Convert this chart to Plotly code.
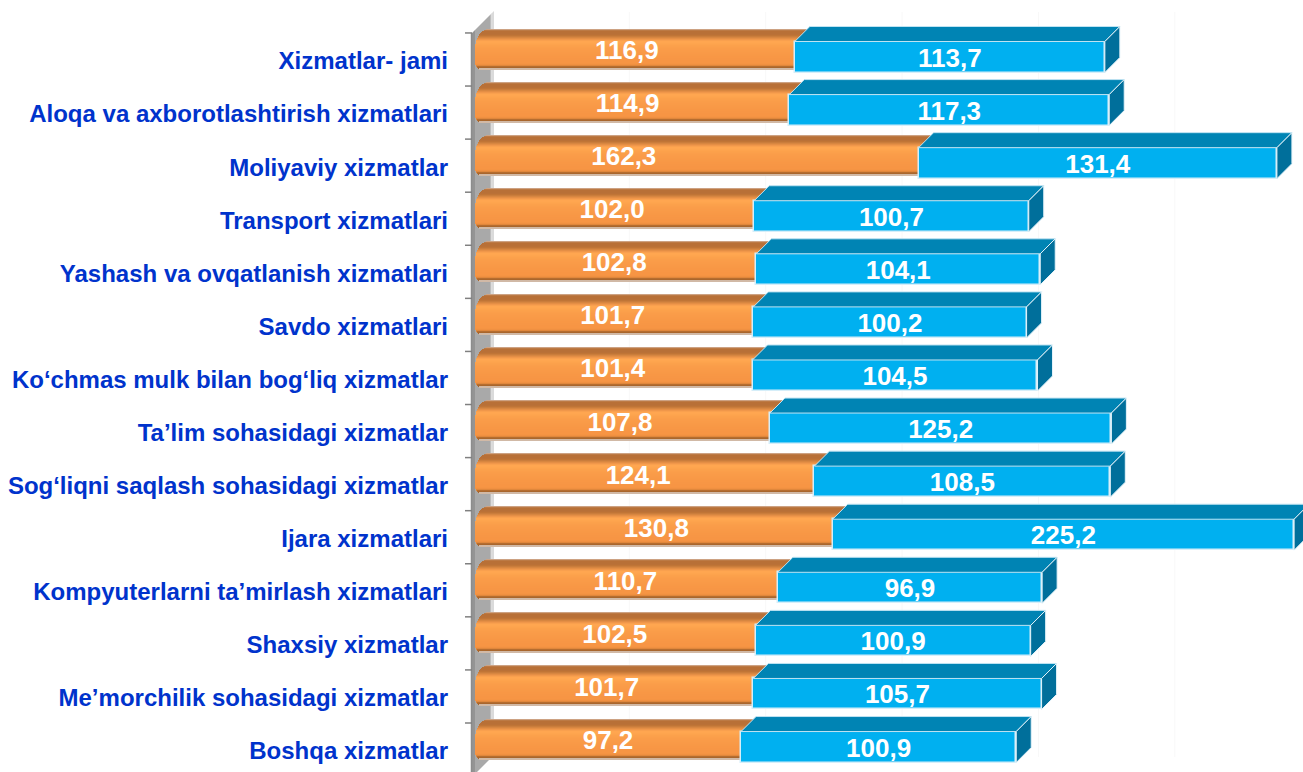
import plotly.graph_objects as go

# ---- data ----
categories = ["Xizmatlar- jami", "Aloqa va axborotlashtirish xizmatlari", "Moliyaviy xizmatlar",
              "Transport xizmatlari", "Yashash va ovqatlanish xizmatlari", "Savdo xizmatlari",
              "Ko‘chmas mulk bilan bog‘liq xizmatlar", "Ta’lim sohasidagi xizmatlar",
              "Sog‘liqni saqlash sohasidagi xizmatlar", "Ijara xizmatlari",
              "Kompyuterlarni ta’mirlash xizmatlari", "Shaxsiy xizmatlar",
              "Me’morchilik sohasidagi xizmatlar", "Boshqa xizmatlar"]
orange_values = [116.9, 114.9, 162.3, 102.0, 102.8, 101.7, 101.4, 107.8, 124.1, 130.8, 110.7, 102.5, 101.7, 97.2]
blue_values = [113.7, 117.3, 131.4, 100.7, 104.1, 100.2, 104.5, 125.2, 108.5, 225.2, 96.9, 100.9, 105.7, 100.9]
axis_max = 300

# ---- styling / scale constants ----
PX_PER_UNIT = 2.727
ROW_PX = 53.08
X0_PX = 476
ROW0_PX = 59.5
FIG_W, FIG_H = 1303, 772
AXIS_PX = 465
def X(px): return (px - X0_PX) / PX_PER_UNIT
def Y(px): return (px - ROW0_PX) / ROW_PX
def DX(px): return px / PX_PER_UNIT
def DY(px): return px / ROW_PX

DEPTH = 15
FRONT_TOP, FRONT_BOT = -18, 13     # blue front face, px from row centre
# orange tube strips: px from row centre -> colour, left cap inset px (from the tube's left end)
tube = [
    (-30.5, "#CDA283", 11), (-29.5, "#BC7A45", 9), (-28.5, "#B87037", 7), (-27.5, "#B87037", 6),
    (-26.5, "#B87037", 5), (-25.5, "#BA7137", 4), (-24.5, "#C07536", 3.5), (-23.5, "#CA7D3C", 3),
    (-22.5, "#D78640", 2.5), (-21.5, "#E48E45", 2), (-20.5, "#F0974A", 1.5), (-19.5, "#F9A04E", 1),
    (-18.5, "#FFA650", 1), (-17.5, "#FFA650", 0.5), (-16.5, "#FEA54E", 0.5), (-15.5, "#FDA34D", 0),
    (-14.5, "#FCA14B", 0), (-13.5, "#FBA04B", 0), (-12.5, "#FB9E4A", 0), (-11.5, "#FA9D49", 0),
    (-10.5, "#FA9C49", 0), (-9.5, "#FA9B48", 0), (-8.5, "#F99B48", 0), (-7.5, "#F99A47", 0),
    (-6.5, "#F99947", 0), (-5.5, "#F89946", 0), (-4.5, "#F89846", 0), (-3.5, "#F89745", 0),
    (-2.5, "#F89745", 0), (-1.5, "#F79645", 0), (-0.5, "#F79645", 0), (0.5, "#F79544", 0),
    (1.5, "#F79544", 0), (2.5, "#F79544", 0), (3.5, "#F59443", 0), (4.5, "#F09041", 0.5),
    (5.5, "#E0873B", 1), (6.5, "#B56D30", 1.5), (7.5, "#A9662C", 2.5), (8.5, "#D1B9A6", 4),
]

fig = go.Figure()

# orange tube: one bar trace per horizontal strip
for top, colour, inset in tube:
    start = DX(inset - 1)
    extra = max(0, FRONT_TOP - top)     # runs back under the blue top face
    fig.add_trace(go.Bar(
        y=list(range(len(categories))),
        x=[v - start + DX(extra) for v in orange_values],
        base=[start] * len(categories),
        orientation="h", width=DY(1.25), offset=DY(top),
        marker=dict(color=colour, line=dict(width=0)),
        hoverinfo="skip", showlegend=False))

# blue front: bar clipped at the axis maximum
blue_drawn = [min(b, axis_max - o) for o, b in zip(orange_values, blue_values)]
fig.add_trace(go.Bar(
    y=list(range(len(categories))), x=blue_drawn, base=orange_values,
    orientation="h", width=DY(FRONT_BOT - FRONT_TOP), offset=DY(FRONT_TOP),
    marker=dict(color="#00B0F0", line=dict(color="#D5EEF9", width=1.5)),
    showlegend=False, hoverinfo="skip"))

# blue top and side faces from the same values
top_x, top_y, side_x, side_y = [], [], [], []
for i, (o, b) in enumerate(zip(orange_values, blue_drawn)):
    e = o + b
    yt, yb = i + DY(FRONT_TOP), i + DY(FRONT_BOT)
    top_x += [o, e, e + DX(DEPTH), o + DX(DEPTH), o, None]
    top_y += [yt, yt, yt - DY(DEPTH), yt - DY(DEPTH), yt, None]
    side_x += [e, e + DX(DEPTH), e + DX(DEPTH), e, e, None]
    side_y += [yt, yt - DY(DEPTH), yb - DY(DEPTH), yb, yt, None]
fig.add_trace(go.Scatter(x=top_x, y=top_y, mode="lines", fill="toself", fillcolor="#0084B4",
                         line=dict(color="#BFE3F2", width=1), hoverinfo="skip", showlegend=False))
fig.add_trace(go.Scatter(x=side_x, y=side_y, mode="lines", fill="toself", fillcolor="#006F9B",
                         line=dict(color="#E4F3FA", width=1), hoverinfo="skip", showlegend=False))

# data labels (decimal comma); orange labels sit where the source placed them
orange_label_nudge = [-8.5, -5, -73.5, -3, -2, -2, -1.5, -3, -7, 2, -1.5, -1, -8, -0.5]
fmt = lambda v: f"{v:.1f}".replace(".", ",")
lab = dict(family="Liberation Sans", size=26, color="white")
fig.add_trace(go.Scatter(
    x=[o / 2 + DX(n) for o, n in zip(orange_values, orange_label_nudge)],
    y=[i + DY(-7) for i in range(len(categories))],
    mode="text", text=[f"<b>{fmt(v)}</b>" for v in orange_values], textposition="middle center",
    textfont=lab, hoverinfo="skip", showlegend=False, cliponaxis=False))
fig.add_trace(go.Scatter(
    x=[o + b / 2 for o, b in zip(orange_values, blue_drawn)],
    y=[i + DY(0.5) for i in range(len(categories))],
    mode="text", text=[f"<b>{fmt(v)}</b>" for v in blue_values], textposition="middle center",
    textfont=lab, hoverinfo="skip", showlegend=False, cliponaxis=False))

# back wall, gridlines, axis line and ticks
shapes = []
n = len(categories)
for g in range(50, axis_max + 1, 50):
    shapes.append(dict(type="line", layer="below", xref="x", yref="y",
                       x0=X(493) + g, x1=X(493) + g, y0=Y(12), y1=Y(757),
                       line=dict(color="#F8F8F8", width=1)))
def wall(x0, x1, colour):
    # parallelogram slice of the wall between pixel columns x0 and x1
    y_top = lambda x: 33 - (x - 472)
    y_bot = lambda x: 777 - (x - 472)
    path = (f"M {X(x0)} {Y(y_top(x0))} L {X(x1)} {Y(y_top(x1))} "
            f"L {X(x1)} {Y(y_bot(x1))} L {X(x0)} {Y(y_bot(x0))} Z")
    return dict(type="path", layer="below", xref="x", yref="y", path=path,
                fillcolor=colour, line=dict(width=0))
shapes.append(wall(472, 475, "#949494"))
shapes.append(wall(475, 490, "#A9A9A9"))
shapes.append(wall(490, 491.5, "#BDBDBD"))
shapes.append(wall(491.5, 494, "#DADADA"))
shapes.append(dict(type="line", layer="below", xref="x", yref="y", x0=X(471.5), x1=X(471.5),
                   y0=-0.5, y1=n - 0.5, line=dict(color="#8C8C8C", width=1.5)))
for i in range(n):
    shapes.append(dict(type="line", layer="below", xref="x", yref="y", x0=X(465), x1=X(472),
                       y0=i - 0.5, y1=i - 0.5, line=dict(color="#808080", width=1.5)))

fig.update_layout(
    width=FIG_W, height=FIG_H, autosize=False,
    margin=dict(l=AXIS_PX, r=0, t=0, b=0),
    paper_bgcolor="white", plot_bgcolor="rgba(0,0,0,0)",
    barmode="overlay", bargap=0, showlegend=False, shapes=shapes,
    xaxis=dict(range=[X(AXIS_PX), X(FIG_W)], visible=False, fixedrange=True),
    yaxis=dict(range=[Y(FIG_H), Y(0)], showgrid=False, zeroline=False, showline=False, ticks="",
               tickmode="array", tickvals=[i + DY(1.5) for i in range(n)], ticktext=categories,
               ticklabelstandoff=16, automargin=False, fixedrange=True,
               tickfont=dict(family="Liberation Sans", size=24, color="#0033CC", weight="bold")),
)
fig.write_html("out.html", config=dict(displayModeBar=False),
               post_script="document.body.style.margin='0';document.body.style.overflow='hidden';")
